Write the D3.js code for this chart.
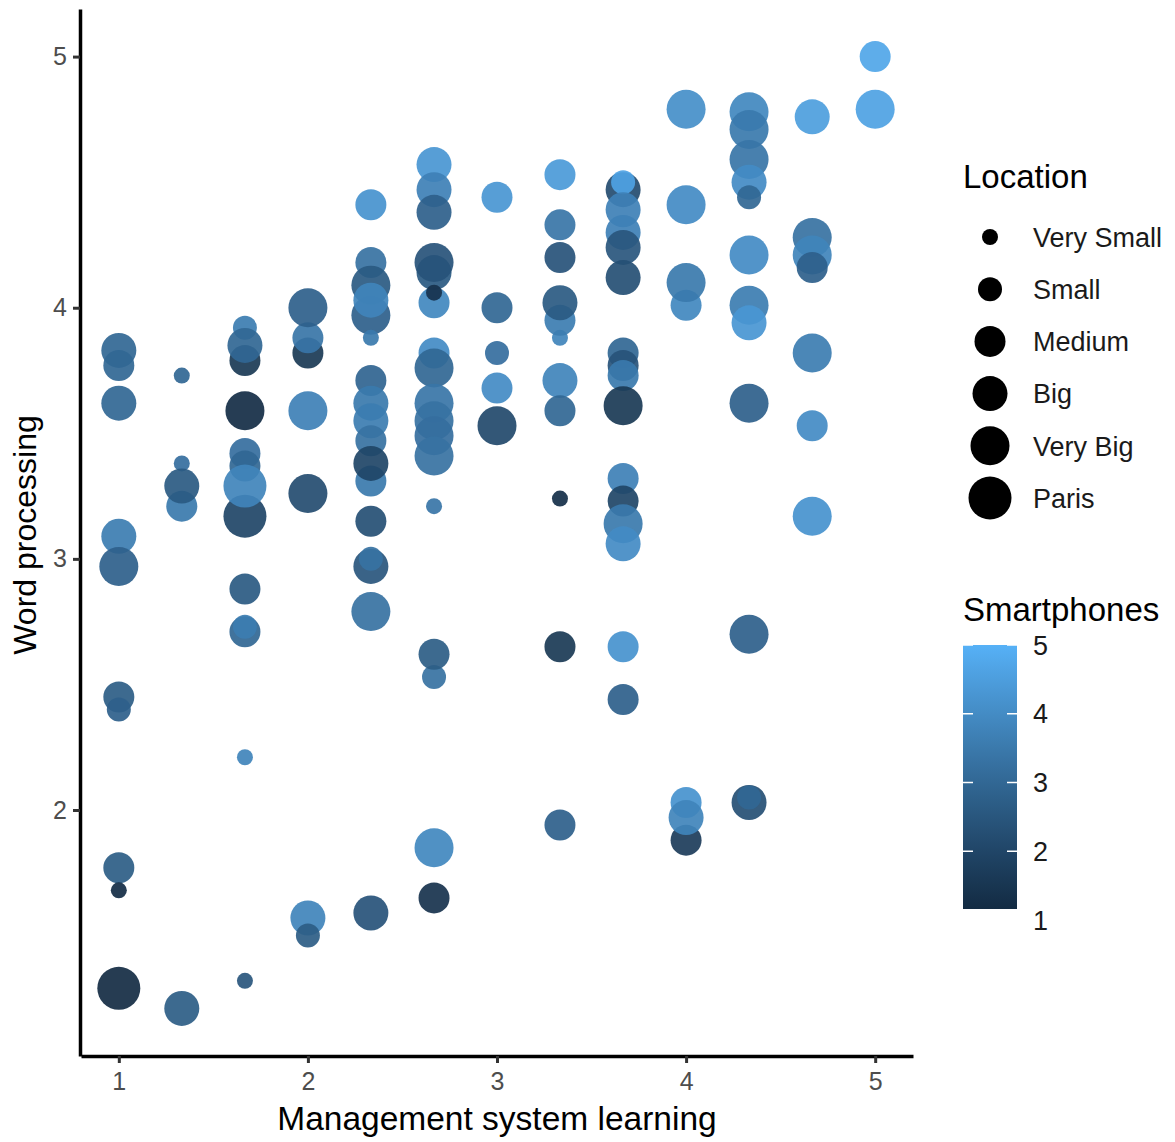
<!DOCTYPE html>
<html>
<head>
<meta charset="utf-8">
<script src="https://cdn.jsdelivr.net/npm/d3@7"></script>
<style>
  html, body { margin: 0; padding: 0; background: #fff; }
  svg { display: block; font-family: "Liberation Sans", Arial, sans-serif; }
</style>
</head>
<body>
<svg id="chart" width="1175" height="1142"></svg>
<script>
"use strict";

// size legend categories
var locations = ["Very Small", "Small", "Medium", "Big", "Very Big", "Paris"];

// management system learning (x), column by column
var msl = [
  1, 1, 1, 1, 1, 1, 1, 1, 1, 1,
  1.333, 1.333, 1.333, 1.333, 1.333,
  1.667, 1.667, 1.667, 1.667, 1.667, 1.667, 1.667, 1.667, 1.667, 1.667, 1.667, 1.667, 1.667,
  2, 2, 2, 2, 2, 2, 2,
  2.333, 2.333, 2.333, 2.333, 2.333, 2.333, 2.333, 2.333, 2.333, 2.333, 2.333, 2.333, 2.333, 2.333, 2.333, 2.333, 2.333,
  2.667, 2.667, 2.667, 2.667, 2.667, 2.667, 2.667, 2.667, 2.667, 2.667, 2.667, 2.667, 2.667, 2.667, 2.667, 2.667, 2.667, 2.667,
  3, 3, 3, 3, 3,
  3.333, 3.333, 3.333, 3.333, 3.333, 3.333, 3.333, 3.333, 3.333, 3.333, 3.333,
  3.667, 3.667, 3.667, 3.667, 3.667, 3.667, 3.667, 3.667, 3.667, 3.667, 3.667, 3.667, 3.667, 3.667, 3.667, 3.667,
  4, 4, 4, 4, 4, 4, 4,
  4.333, 4.333, 4.333, 4.333, 4.333, 4.333, 4.333, 4.333, 4.333, 4.333, 4.333, 4.333,
  4.667, 4.667, 4.667, 4.667, 4.667, 4.667, 4.667,
  5, 5
];

// word processing (y)
var wp = [
  3.83, 3.77, 3.62, 3.09, 2.97, 2.45, 2.40, 1.77, 1.68, 1.29,
  3.73, 3.38, 3.21, 3.29, 1.21,
  3.92, 3.79, 3.85, 3.59, 3.42, 3.37, 3.17, 3.29, 2.88, 2.71, 2.73, 2.21, 1.32,
  3.82, 3.88, 4.00, 3.59, 3.26, 1.57, 1.50,
  4.41, 4.18, 4.09, 3.97, 4.03, 3.88, 3.71, 3.62, 3.55, 3.47, 3.31, 3.38, 3.15, 2.97, 3.00, 2.79, 1.59,
  4.57, 4.47, 4.38, 4.02, 4.14, 4.18, 4.06, 3.82, 3.76, 3.62, 3.55, 3.49, 3.41, 3.21, 2.53, 2.62, 1.85, 1.65,
  4.44, 4.00, 3.82, 3.68, 3.53,
  4.53, 4.33, 4.20, 3.88, 3.95, 4.02, 3.71, 3.59, 3.24, 2.65, 1.94,
  4.47, 4.50, 4.39, 4.30, 4.24, 4.12, 3.82, 3.77, 3.73, 3.61, 3.32, 3.23, 3.14, 3.06, 2.65, 2.44,
  4.79, 4.41, 4.01, 4.10, 1.88, 2.03, 1.97,
  4.78, 4.71, 4.59, 4.50, 4.44, 4.21, 4.01, 3.94, 3.62, 2.70, 2.03, 2.05,
  4.76, 4.28, 4.21, 4.16, 3.82, 3.53, 3.17,
  5.00, 4.79
];

// location level, 1 = Very Small ... 6 = Paris
var loc = [
  4, 3, 4, 4, 5, 3, 2, 3, 1, 6,
  1, 1, 3, 4, 4,
  2, 3, 4, 5, 3, 3, 6, 6, 3, 3, 2, 1, 1,
  3, 3, 5, 5, 5, 4, 2,
  3, 3, 5, 5, 4, 1, 3, 4, 4, 3, 3, 4, 3, 4, 2, 5, 4,
  4, 4, 4, 3, 4, 5, 1, 3, 5, 5, 5, 5, 5, 1, 2, 3, 5, 3,
  3, 3, 2, 3, 5,
  3, 3, 3, 1, 3, 4, 4, 3, 1, 3, 3,
  4, 2, 4, 4, 4, 4, 3, 3, 3, 5, 3, 3, 5, 4, 3, 3,
  5, 5, 3, 5, 3, 3, 4,
  5, 5, 5, 4, 2, 5, 5, 4, 5, 5, 4, 2,
  4, 5, 5, 3, 5, 3, 5,
  3, 5
];

// smartphones (colour)
var phone = [
  3.0, 3.0, 3.0, 3.6, 2.8, 2.7, 2.8, 2.7, 1.2, 1.1,
  3.0, 3.2, 3.5, 2.6, 2.7,
  3.6, 1.6, 3.0, 1.2, 3.2, 3.0, 2.0, 3.8, 2.6, 3.0, 3.6, 3.8, 2.5,
  1.6, 3.4, 2.8, 3.7, 2.2, 3.8, 2.7,
  4.2, 3.3, 2.6, 2.8, 3.8, 3.5, 2.9, 3.5, 3.6, 3.3, 3.5, 2.0, 2.3, 2.5, 3.3, 3.3, 2.4,
  4.3, 3.7, 2.8, 3.9, 2.6, 2.4, 1.4, 4.0, 3.0, 3.4, 3.3, 3.2, 3.3, 3.4, 3.3, 2.7, 3.9, 1.4,
  4.3, 3.0, 3.2, 4.0, 2.1,
  4.4, 3.4, 2.4, 3.8, 3.6, 2.6, 3.8, 3.0, 1.3, 1.6, 2.8,
  2.2, 4.6, 3.7, 3.7, 2.5, 2.3, 3.0, 2.4, 3.5, 1.6, 3.7, 2.0, 3.5, 4.0, 4.2, 2.8,
  4.1, 4.0, 3.9, 3.5, 1.7, 4.2, 3.8,
  3.9, 3.5, 3.4, 4.0, 3.0, 4.0, 3.6, 4.3, 2.8, 2.8, 2.3, 3.0,
  4.5, 3.3, 3.8, 2.8, 3.6, 4.0, 4.2,
  4.7, 4.6
];

var phoneLimits = [1.16, 5];
var xTicks = [1, 2, 3, 4, 5];
var yTicks = [2, 3, 4, 5];
var phoneTicks = [1, 2, 3, 4, 5];

var svg = d3.select("#chart");

function expand(ext) {
  var pad = (ext[1] - ext[0]) * 0.05;
  return [ext[0] - pad, ext[1] + pad];
}

var x = d3.scaleLinear().domain(expand(d3.extent(msl))).range([81, 913]);
var y = d3.scaleLinear().domain(expand(d3.extent(wp))).range([1056, 9]);

var colour = d3.scaleLinear()
  .domain(phoneLimits)
  .range(["#132B43", "#56B1F7"])
  .interpolate(d3.interpolateLab)
  .clamp(true);

var radius = d3.scaleOrdinal().domain(d3.range(1, 7)).range([8, 12, 15.5, 17.5, 19.5, 21.5]);

var points = msl.map(function(d, i){
  return {x: d, y: wp[i], loc: loc[i], phone: phone[i]};
});

// points
svg.append("g").selectAll("circle")
  .data(points)
  .enter().append("circle")
  .attr("cx", function(d){ return x(d.x); })
  .attr("cy", function(d){ return y(d.y); })
  .attr("r", function(d){ return radius(d.loc); })
  .attr("fill", function(d){ return colour(d.phone); })
  .attr("fill-opacity", 0.92);

// axes
function styleAxis(g) {
  g.select(".domain").attr("stroke", "#000").attr("stroke-width", 3.5);
  g.selectAll(".tick line").attr("stroke", "#333").attr("stroke-width", 3);
  g.selectAll(".tick text").attr("fill", "#4D4D4D").style("font-size", "25px").attr("font-family", null);
}

svg.append("g")
  .attr("transform", "translate(0,1056)")
  .call(d3.axisBottom(x).tickValues(xTicks).tickFormat(d3.format("d")).tickSize(7).tickSizeOuter(0).tickPadding(9))
  .call(styleAxis);

svg.append("g")
  .attr("transform", "translate(80,0)")
  .call(d3.axisLeft(y).tickValues(yTicks).tickFormat(d3.format("d")).tickSize(7).tickSizeOuter(0).tickPadding(6))
  .call(styleAxis);

svg.append("text")
  .attr("x", 497).attr("y", 1130)
  .attr("text-anchor", "middle")
  .style("font-size", "33.5px")
  .attr("fill", "#000")
  .text("Management system learning");

svg.append("text")
  .attr("transform", "translate(36,535) rotate(-90)")
  .attr("text-anchor", "middle")
  .style("font-size", "32px")
  .attr("fill", "#000")
  .text("Word processing");

// size legend
var legend = svg.append("g");
legend.append("text")
  .attr("x", 963).attr("y", 188)
  .style("font-size", "33px")
  .text("Location");

var ly = d3.scalePoint().domain(locations).range([237, 498]);
locations.forEach(function(name, i){
  legend.append("circle")
    .attr("cx", 990).attr("cy", ly(name))
    .attr("r", radius(i + 1))
    .attr("fill", "#000");
  legend.append("text")
    .attr("x", 1033).attr("y", ly(name))
    .attr("dy", "0.36em")
    .style("font-size", "27px")
    .attr("fill", "#1a1a1a")
    .text(name);
});

// colour bar legend
var cy = d3.scaleLinear().domain([1, 5]).range([920, 645]);

legend.append("text")
  .attr("x", 963).attr("y", 621)
  .style("font-size", "33px")
  .text("Smartphones");

var grad = svg.append("defs").append("linearGradient")
  .attr("id", "phoneGrad")
  .attr("x1", 0).attr("y1", 1).attr("x2", 0).attr("y2", 0);
d3.range(0, 1.0001, 0.1).forEach(function(t){
  grad.append("stop")
    .attr("offset", t)
    .attr("stop-color", colour(phoneLimits[0] + t * (phoneLimits[1] - phoneLimits[0])));
});

legend.append("rect")
  .attr("x", 963).attr("width", 54)
  .attr("y", cy(phoneLimits[1]))
  .attr("height", cy(phoneLimits[0]) - cy(phoneLimits[1]))
  .attr("fill", "url(#phoneGrad)");

phoneTicks.filter(function(v){ return v >= phoneLimits[0] && v <= phoneLimits[1]; }).forEach(function(v){
  legend.append("line")
    .attr("x1", 963).attr("x2", 973).attr("y1", cy(v)).attr("y2", cy(v))
    .attr("stroke", "#fff").attr("stroke-width", 1.5);
  legend.append("line")
    .attr("x1", 1007).attr("x2", 1017).attr("y1", cy(v)).attr("y2", cy(v))
    .attr("stroke", "#fff").attr("stroke-width", 1.5);
});

phoneTicks.forEach(function(v){
  legend.append("text")
    .attr("x", 1033).attr("y", cy(v))
    .attr("dy", "0.36em")
    .style("font-size", "27px")
    .attr("fill", "#1a1a1a")
    .text(v);
});
</script>
</body>
</html>
